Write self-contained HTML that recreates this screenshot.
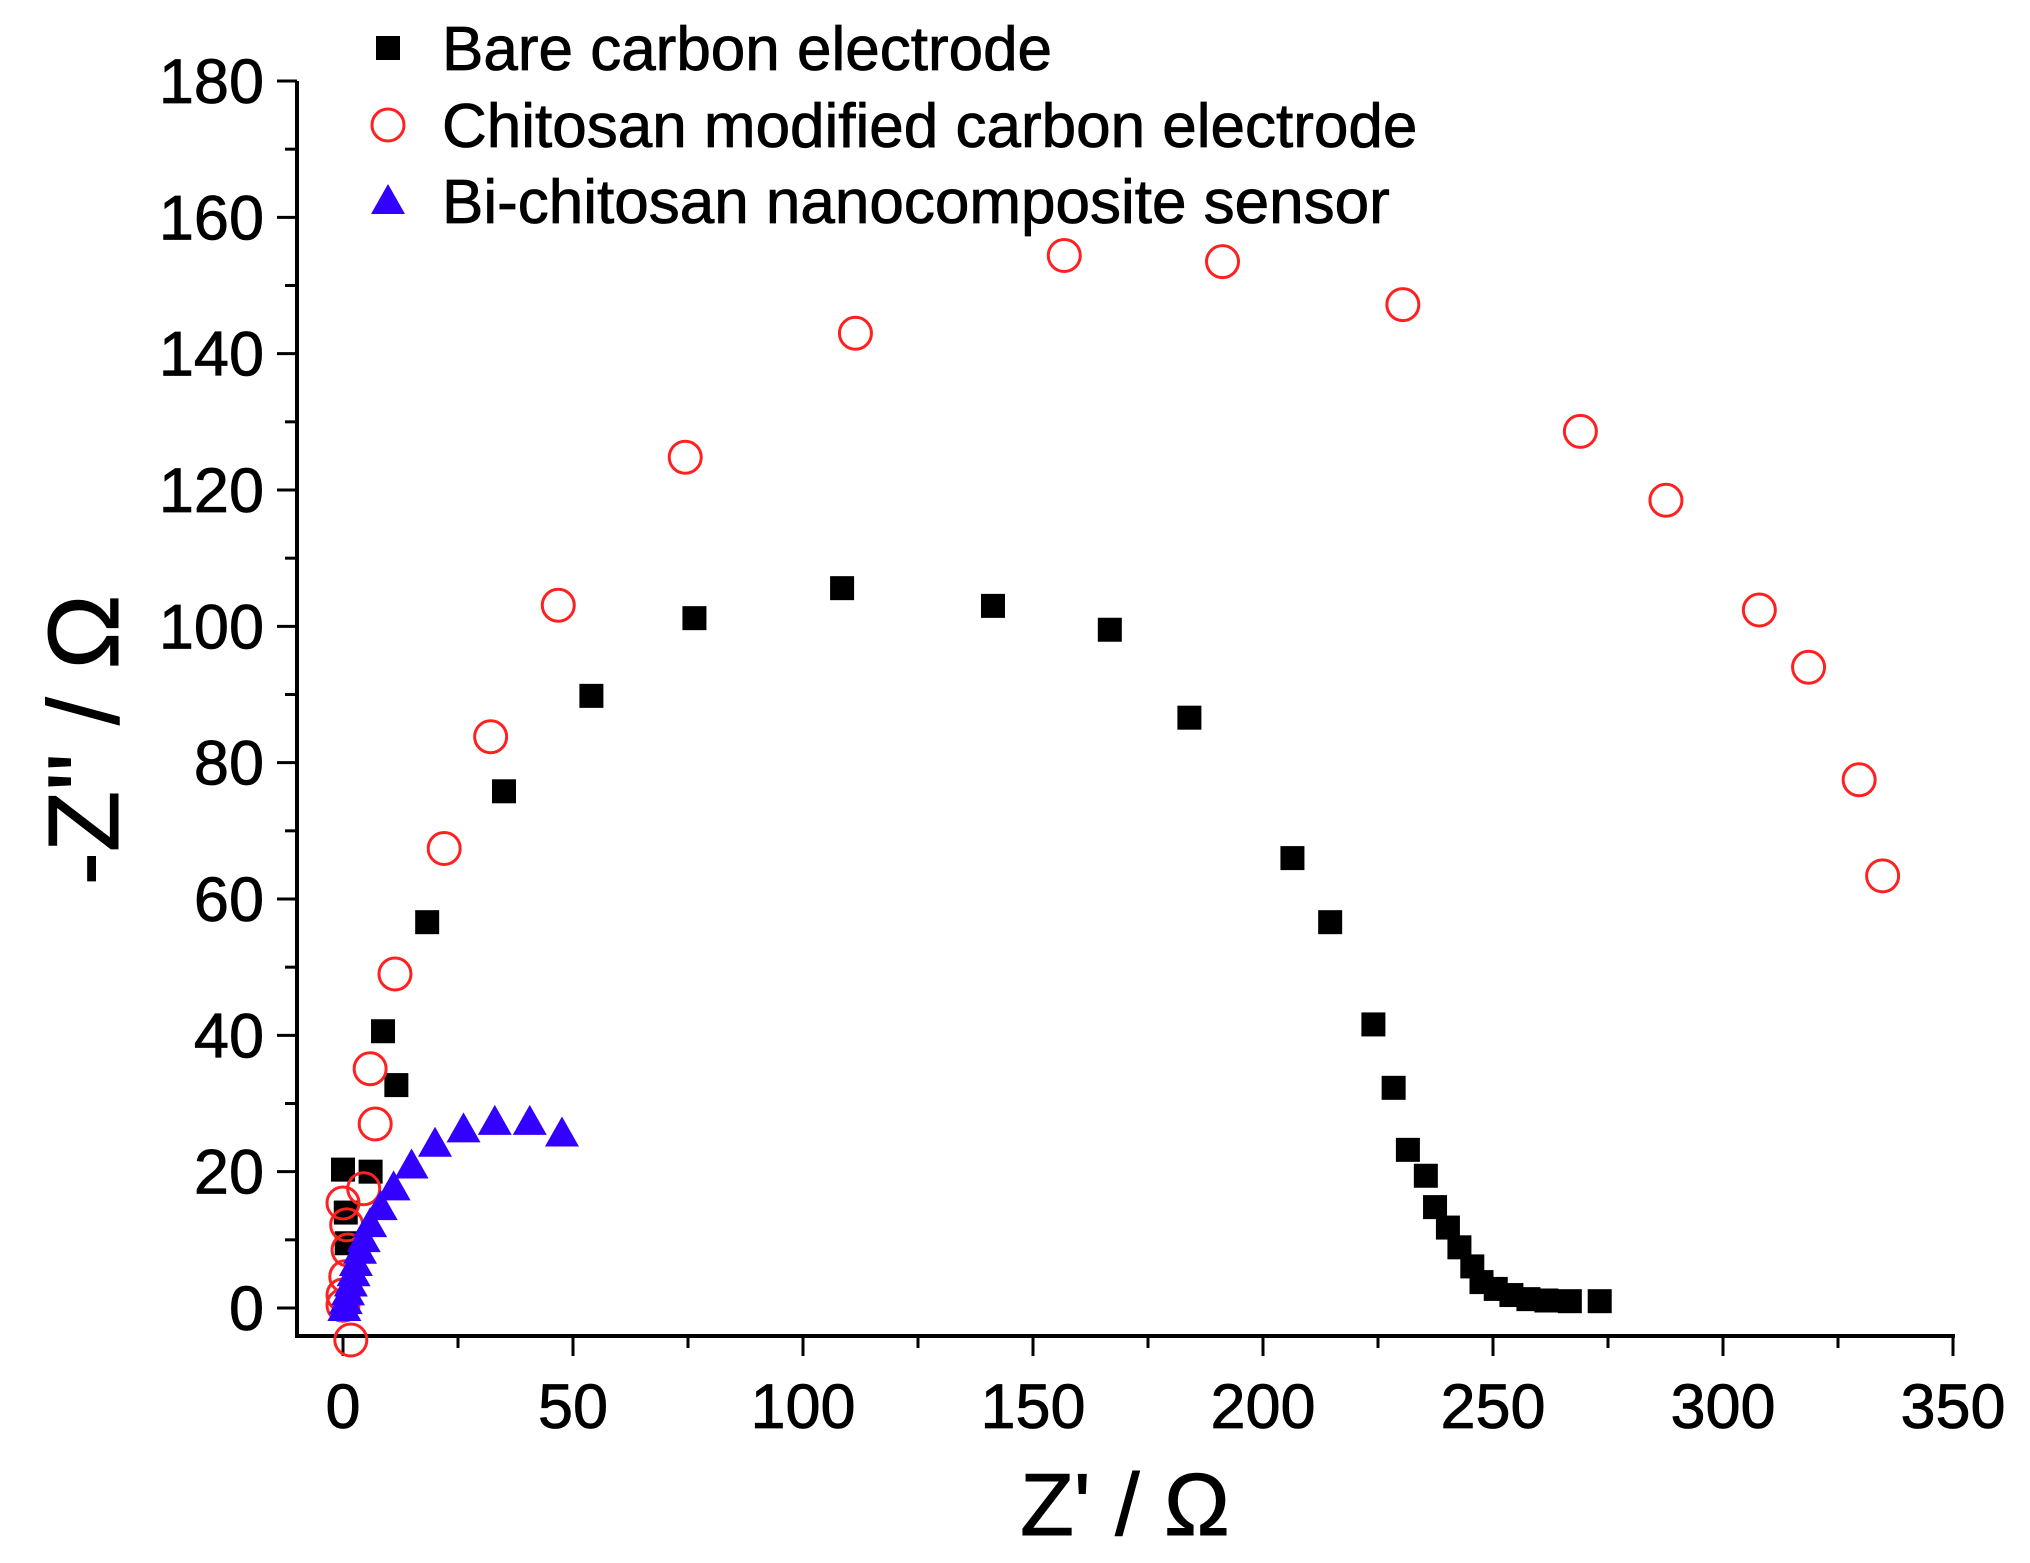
<!DOCTYPE html>
<html><head><meta charset="utf-8"><style>
html,body{margin:0;padding:0;background:#fff;}
svg{display:block;font-family:"Liberation Sans",sans-serif;}
</style></head><body>
<svg id="chart" width="2030" height="1563" viewBox="0 0 2030 1563" xmlns="http://www.w3.org/2000/svg"></svg>
<script>
const xTicks=[0,50,100,150,200,250,300,350];
const yTicks=[0,20,40,60,80,100,120,140,160,180];
const bareX=[0,6,8.7,11.6,18.3,35,54,76.4,108.5,141.3,166.7,184,206.4,214.6,224,228.4,231.5,235.4,237.4,240.2,242.7,245.5,247.5,250.6,254,257.7,261.6,266.7,273.2,0.6,0.8];
const bareY=[20.3,20,40.6,32.7,56.6,75.8,89.8,101.2,105.6,103,99.5,86.6,66,56.6,41.6,32.3,23.2,19.4,14.8,11.8,8.9,6.1,3.8,2.8,1.9,1.3,1.1,1,1,14,9.5];
const chitX=[156.8,191.2,230.4,111.4,74.4,269,287.6,46.8,307.9,318.6,32.1,329.6,334.7,22,11.3,5.9,7,4.5,0,0.8,1.1,0.6,0,0,1.7];
const chitY=[154.4,153.5,147.2,143,124.8,128.6,118.5,103.1,102.4,94,83.8,77.5,63.4,67.4,49,35.1,27,17.5,15.4,12.2,8.5,4.6,1.9,0.4,-4.7];
const biX=[47.6,40.6,33,26.2,20,14.9,11,8.2,5.9,4.5,3.7,2.8,2.3,1.7,1.1,0.6,0.3];
const biY=[25.6,27.3,27.3,26.2,24.1,20.9,17.7,14.8,12.3,10.1,8.4,6.6,5.1,3.6,2.3,1,0];
const NS="http://www.w3.org/2000/svg";
const svg=document.getElementById('chart');
const X0=343,XS=(1953-343)/350,Y0=1308,YS=(1308-81)/180;
const sx=v=>X0+v*XS, sy=v=>Y0-v*YS;
function mk(t,a,p){const e=document.createElementNS(NS,t);for(const k in a)e.setAttribute(k,a[k]);(p||svg).appendChild(e);return e;}
const ax=mk('path',{d:`M297 81 V1336 H1955`,fill:'none',stroke:'#000','stroke-width':4});


for(let v=0;v<=350;v+=25){const major=v%50===0;const t=mk('line',{x1:sx(v),x2:sx(v),y1:1336,y2:1336+(major?20:12),stroke:'#000','stroke-width':3});

}
for(let v=0;v<=180;v+=10){const major=v%20===0;const t=mk('line',{x1:297,x2:297-(major?20:12),y1:sy(v),y2:sy(v),stroke:'#000','stroke-width':3});

}
xTicks.forEach(v=>{const t=mk('text',{x:sx(v),y:1428,'text-anchor':'middle','font-size':63,stroke:'#000','stroke-width':0.8});t.textContent=v;

});
yTicks.forEach(v=>{const t=mk('text',{x:264,y:sy(v)+22,'text-anchor':'end','font-size':63,stroke:'#000','stroke-width':0.8});t.textContent=v;

});
const xt=mk('text',{x:1125,y:1535,'text-anchor':'middle','font-size':88,stroke:'#000','stroke-width':1});xt.textContent="Z' / Ω";


const yt=mk('text',{x:0,y:0,'text-anchor':'middle','font-size':100,stroke:'#000','stroke-width':1,transform:'translate(118,740) rotate(-90)'});yt.textContent="-Z'' / Ω";


function sq(cx,cy,p){return mk('rect',{x:cx-12,y:cy-12,width:24,height:24,fill:'#000'},p);}
function ci(cx,cy,p){return mk('circle',{cx:cx,cy:cy,r:16,fill:'none',stroke:'#ff2020','stroke-width':3},p);}
function tr(cx,cy,p){return mk('polygon',{points:`${cx},${cy-17} ${cx+17},${cy+13} ${cx-17},${cy+13}`,fill:'#3300ff'},p);}
const g1=mk('g',{});
bareX.forEach((v,i)=>{const e=sq(sx(v),sy(bareY[i]),g1);

});
const g2=mk('g',{});
chitX.forEach((v,i)=>{const e=ci(sx(v),sy(chitY[i]),g2);

});
const g3=mk('g',{});
biX.forEach((v,i)=>{const e=tr(sx(v),sy(biY[i]),g3);

});
const lg=mk('g',{});
const labels=["Bare carbon electrode","Chitosan modified carbon electrode","Bi-chitosan nanocomposite sensor"];
const fns=[sq,ci,tr];const ys=[48,125,201];
labels.forEach((s,i)=>{fns[i](388,ys[i],lg);const t=mk('text',{x:442,y:ys[i]+22,'font-size':62,stroke:'#000','stroke-width':0.8},lg);t.textContent=s;

});
</script>
</body></html>
